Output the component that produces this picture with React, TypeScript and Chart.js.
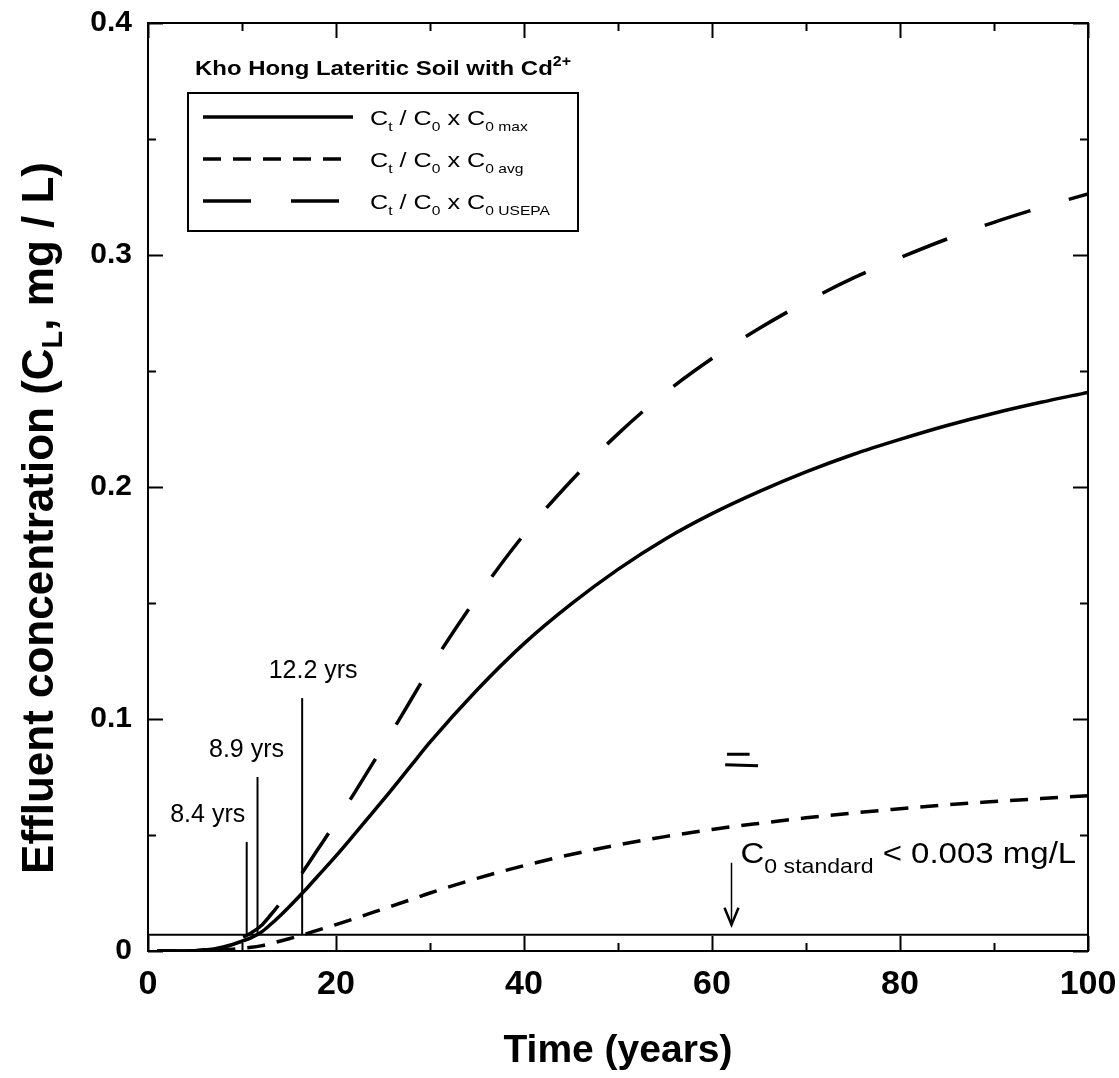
import React, { useEffect, useRef } from 'react';
import { Chart, registerables } from 'chart.js';

Chart.register(...registerables);

// ---------- data ----------
const years = [1, 2, 4, 5, 6, 7, 8, 9, 10, 11, 12, 13, 14, 15, 16, 17, 18, 20, 22, 25, 28, 30, 35, 40, 45, 50, 55, 60, 65, 70, 75, 80, 85, 90, 95, 100];
const maxSeries = [0, 0, 0, 0.0001, 0.0004, 0.0009, 0.0017, 0.0028, 0.0042, 0.0058, 0.008, 0.0113, 0.015, 0.019, 0.0232, 0.0275, 0.032, 0.041, 0.0505, 0.065, 0.08, 0.09, 0.1125, 0.1325, 0.1495, 0.1645, 0.1775, 0.1885, 0.198, 0.2065, 0.214, 0.2205, 0.2265, 0.2318, 0.2365, 0.2408];
const avgSeries = [0, 0, 0, 0, 0.0001, 0.0003, 0.0005, 0.0008, 0.0012, 0.0016, 0.0022, 0.0031, 0.0042, 0.0053, 0.0064, 0.0076, 0.0089, 0.0114, 0.014, 0.0181, 0.0222, 0.025, 0.0313, 0.0368, 0.0416, 0.0457, 0.0493, 0.0524, 0.055, 0.0574, 0.0595, 0.0613, 0.063, 0.0644, 0.0657, 0.0669];
const usepaSeries = [0, 0, 0, 0.0001, 0.0005, 0.0012, 0.0023, 0.0038, 0.0057, 0.0079, 0.0108, 0.0153, 0.0203, 0.0257, 0.0314, 0.0373, 0.0434, 0.0556, 0.0684, 0.0881, 0.1084, 0.122, 0.1524, 0.1795, 0.2026, 0.2229, 0.2405, 0.2554, 0.2683, 0.2798, 0.29, 0.2988, 0.3069, 0.3141, 0.3205, 0.3263];

const thresholdValue = 0.007;
const thresholdRange = [0, 100];
const breakthroughYears = [10.5, 11.65, 16.4];
const breakthroughTops = [0.047, 0.075, 0.109];
const breakthroughLabels = ['8.4 yrs', '8.9 yrs', '12.2 yrs'];

const arrowYear = 62;
const strayMarks = [
  [61.6, 0.0848, 64.0, 0.0848],
  [61.4, 0.0803, 64.9, 0.0798],
];

const xTickValues = [0, 20, 40, 60, 80, 100];
const yTickValues = [0, 0.1, 0.2, 0.3, 0.4];

type Seg = [string, number]; // 0 normal, 1 subscript, 2 superscript
const legendTitle: Seg[] = [['Kho Hong Lateritic Soil with Cd', 0], ['2+', 2]];
const legendRows: Seg[][] = [
  [['C', 0], ['t', 1], [' / C', 0], ['0', 1], [' x C', 0], ['0 max', 1]],
  [['C', 0], ['t', 1], [' / C', 0], ['0', 1], [' x C', 0], ['0 avg', 1]],
  [['C', 0], ['t', 1], [' / C', 0], ['0', 1], [' x C', 0], ['0 USEPA', 1]],
];
const legendDashes: number[][] = [[], [18, 12], [48, 40]];
const standardText: Seg[] = [['C', 0], ['0 standard', 1], [' < 0.003 mg/L', 0]];
const yTitle: Seg[] = [['Effluent concentration (C', 0], ['L', 1], [', mg / L)', 0]];
const xTitle = 'Time (years)';

const FONT = "'Liberation Sans', Arial, Helvetica, sans-serif";

function richWidth(ctx: CanvasRenderingContext2D, segs: Seg[], size: number, small: number, bold: boolean) {
  let w = 0;
  for (const [t, k] of segs) {
    ctx.font = `${bold ? 'bold ' : ''}${k === 0 ? size : small}px ${FONT}`;
    w += ctx.measureText(t).width;
  }
  return w;
}

function drawRich(
  ctx: CanvasRenderingContext2D,
  x: number,
  y: number,
  segs: Seg[],
  size: number,
  small: number,
  drop: number,
  rise: number,
  bold: boolean,
  align: 'left' | 'center',
  sx = 1
) {
  const w = richWidth(ctx, segs, size, small, bold);
  ctx.save();
  ctx.translate(x, y);
  ctx.scale(sx, 1);
  let cx = align === 'center' ? -w / 2 : 0;
  ctx.textAlign = 'left';
  ctx.textBaseline = 'alphabetic';
  for (const [t, k] of segs) {
    ctx.font = `${bold ? 'bold ' : ''}${k === 0 ? size : small}px ${FONT}`;
    const dy = k === 1 ? drop : k === 2 ? -rise : 0;
    ctx.fillText(t, cx, dy);
    cx += ctx.measureText(t).width;
  }
  ctx.restore();
}

const decorPlugin = {
  id: 'decor',
  afterDraw(chart: any) {
    const ctx: CanvasRenderingContext2D = chart.ctx;
    const xs = chart.scales.x;
    const ys = chart.scales.y;
    const { left, right, top, bottom } = chart.chartArea;
    ctx.save();
    ctx.fillStyle = '#000';
    ctx.strokeStyle = '#000';
    ctx.setLineDash([]);

    // frame
    ctx.lineWidth = 2;
    ctx.strokeRect(left, top, right - left, bottom - top);

    // inward ticks on all four sides
    ctx.lineWidth = 2;
    ctx.beginPath();
    for (let v = 0; v <= 100; v += 10) {
      const len = v % 20 === 0 ? 15 : 8;
      const px = Math.round(xs.getPixelForValue(v)) + 0.5;
      ctx.moveTo(px, bottom);
      ctx.lineTo(px, bottom - len);
      ctx.moveTo(px, top);
      ctx.lineTo(px, top + len);
    }
    for (let i = 0; i <= 8; i++) {
      const v = i * 0.05;
      const len = i % 2 === 0 ? 15 : 8;
      const py = Math.round(ys.getPixelForValue(v)) + 0.5;
      ctx.moveTo(left, py);
      ctx.lineTo(left + len, py);
      ctx.moveTo(right, py);
      ctx.lineTo(right - len, py);
    }
    ctx.stroke();

    // breakthrough labels
    const labelDx = [-39, -11, 11];
    breakthroughLabels.forEach((lab, i) => {
      const px = xs.getPixelForValue(breakthroughYears[i]);
      const py = ys.getPixelForValue(breakthroughTops[i]);
      ctx.font = `25px ${FONT}`;
      ctx.textAlign = 'center';
      ctx.textBaseline = 'alphabetic';
      ctx.fillText(lab, px + labelDx[i], py - 20);
    });

    // arrow to the threshold line
    const ax = Math.round(xs.getPixelForValue(arrowYear)) + 0.5;
    const ayTip = ys.getPixelForValue(thresholdValue) - 10;
    ctx.lineWidth = 1.5;
    ctx.beginPath();
    ctx.moveTo(ax, ayTip - 62);
    ctx.lineTo(ax, ayTip);
    ctx.stroke();
    ctx.lineWidth = 2.5;
    ctx.beginPath();
    ctx.moveTo(ax - 7, ayTip - 17);
    ctx.lineTo(ax, ayTip);
    ctx.lineTo(ax + 7, ayTip - 17);
    ctx.stroke();

    // C0 standard text
    drawRich(ctx, ax + 9, ayTip - 62, standardText, 30, 21, 10, 0, false, 'left', 1.1);

    // stray marks in the scan
    ctx.lineWidth = 3;
    ctx.beginPath();
    strayMarks.forEach(([x1, y1, x2, y2]) => {
      ctx.moveTo(xs.getPixelForValue(x1), ys.getPixelForValue(y1));
      ctx.lineTo(xs.getPixelForValue(x2), ys.getPixelForValue(y2));
    });
    ctx.stroke();

    // legend title and box
    drawRich(ctx, left + 47, top + 52, legendTitle, 21, 14, 0, 9, true, 'left', 1.14);
    const bx = left + 40;
    const by = top + 70;
    const bw = 390;
    const bh = 138;
    ctx.lineWidth = 2;
    ctx.setLineDash([]);
    ctx.strokeRect(bx, by, bw, bh);
    legendRows.forEach((row, i) => {
      const ry = by + 24 + i * 42;
      ctx.lineWidth = 3.5;
      ctx.setLineDash(legendDashes[i]);
      ctx.beginPath();
      ctx.moveTo(bx + 15, ry);
      ctx.lineTo(bx + 165, ry);
      ctx.stroke();
      ctx.setLineDash([]);
      drawRich(ctx, bx + 182, ry + 8, row, 21, 13, 6, 0, false, 'left', 1.2);
    });

    // axis titles
    ctx.save();
    ctx.translate(53, 518);
    ctx.rotate(-Math.PI / 2);
    drawRich(ctx, 0, 0, yTitle, 44, 29, 9, 0, true, 'center');
    ctx.restore();

    ctx.font = `bold 39px ${FONT}`;
    ctx.textAlign = 'center';
    ctx.textBaseline = 'alphabetic';
    ctx.fillText(xTitle, (left + right) / 2, 1062);

    ctx.restore();
  },
};

export default function App() {
  const ref = useRef<HTMLCanvasElement | null>(null);

  useEffect(() => {
    if (!ref.current) return;
    const pts = (ys: number[]) => years.map((x, i) => ({ x, y: ys[i] }));
    const base = { pointRadius: 0, borderColor: '#000', fill: false, cubicInterpolationMode: 'monotone' as const };
    const datasets: any[] = [
      { ...base, label: 'max', data: pts(maxSeries), borderWidth: 3.5 },
      { ...base, label: 'avg', data: pts(avgSeries), borderWidth: 3.5, borderDash: [18, 12] },
      { ...base, label: 'USEPA', data: pts(usepaSeries), borderWidth: 3.5, borderDash: [48, 40] },
      {
        ...base,
        label: 'threshold',
        data: thresholdRange.map((x) => ({ x, y: thresholdValue })),
        borderWidth: 2,
      },
    ];
    breakthroughYears.forEach((x, i) => {
      datasets.push({
        ...base,
        label: breakthroughLabels[i],
        data: [
          { x, y: thresholdValue },
          { x, y: breakthroughTops[i] },
        ],
        borderWidth: 2,
      });
    });

    const chart = new Chart(ref.current, {
      type: 'line',
      data: { datasets },
      options: {
        animation: false,
        responsive: false,
        events: [],
        layout: { padding: { left: 0, top: 23, right: 31, bottom: 0 } },
        plugins: { legend: { display: false }, tooltip: { enabled: false } },
        scales: {
          x: {
            type: 'linear',
            min: 0,
            max: 100,
            afterFit: (s: any) => {
              s.height = 127;
              s.paddingLeft = 0;
              s.paddingRight = 0;
            },
            afterBuildTicks: (s: any) => {
              s.ticks = xTickValues.map((value) => ({ value }));
            },
            grid: { display: false, drawTicks: false },
            border: { display: false },
            ticks: {
              color: '#000',
              padding: 13,
              maxRotation: 0,
              font: { family: FONT, size: 34, weight: 'bold' },
              callback: (v: any) => String(v),
            },
          },
          y: {
            type: 'linear',
            min: 0,
            max: 0.4,
            afterFit: (s: any) => {
              s.width = 148;
              s.paddingTop = 0;
              s.paddingBottom = 0;
            },
            afterBuildTicks: (s: any) => {
              s.ticks = yTickValues.map((value) => ({ value }));
            },
            grid: { display: false, drawTicks: false },
            border: { display: false },
            ticks: {
              color: '#000',
              padding: 16,
              font: { family: FONT, size: 30, weight: 'bold' },
              callback: (v: any) => (Number(v) === 0 ? '0' : Number(v).toFixed(1)),
            },
          },
        },
      },
      plugins: [decorPlugin],
    });
    return () => chart.destroy();
  }, []);

  return (
    <div style={{ position: 'absolute', left: 0, top: 0, width: 1119, height: 1078, background: '#fff' }}>
      <canvas ref={ref} width={1119} height={1078} style={{ display: 'block' }} />
    </div>
  );
}
